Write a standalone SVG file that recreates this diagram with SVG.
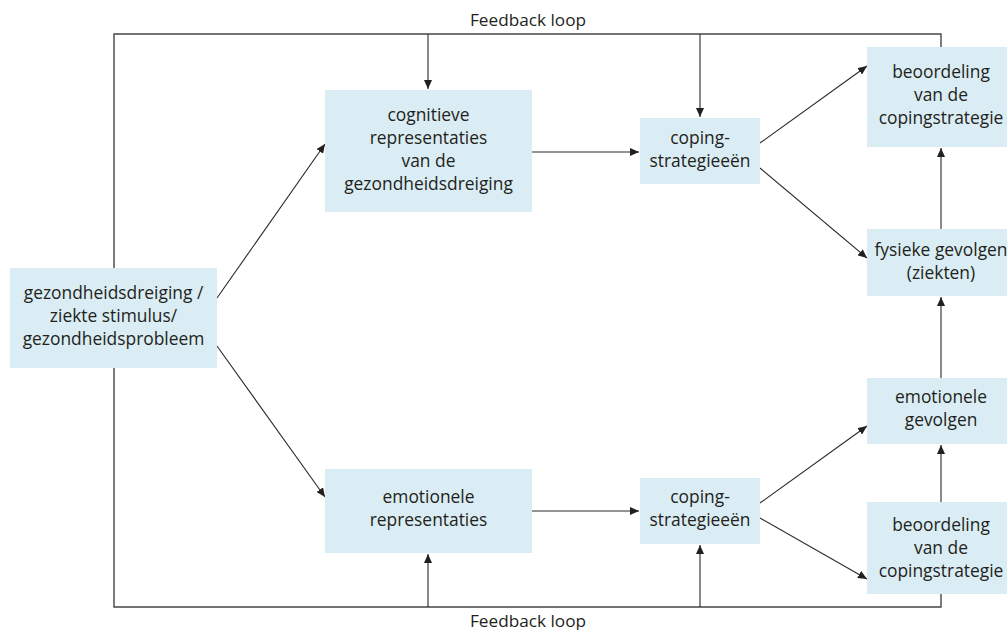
<svg xmlns="http://www.w3.org/2000/svg" width="1007" height="630" viewBox="0 0 1007 630">
<style>
.box{fill:#daedf4;}
.t{font-family:"Open Sans","Noto Sans",sans-serif;font-size:17.4px;fill:#231f20;text-anchor:middle;}
.fb{font-family:"Open Sans","Noto Sans",sans-serif;font-size:17.2px;fill:#231f20;text-anchor:middle;}
.c{stroke:#2e2829;stroke-width:1.1;fill:none;}
.loop{stroke:#4a4344;stroke-width:1.4;fill:none;}
</style>
<defs>
<marker id="ah" markerUnits="userSpaceOnUse" markerWidth="10" markerHeight="8" refX="9" refY="4" orient="auto">
<path d="M0,0 L9,4 L0,8 Z" fill="#231f20"/>
</marker>
</defs>
<rect width="1007" height="630" fill="#ffffff"/>
<g id="connectors">
<path class="loop" d="M114,268 V34 H941 V47"/>
<path class="loop" d="M114,368 V607 H941 V594"/>
<line class="c" x1="428" y1="34" x2="428" y2="89" marker-end="url(#ah)"/>
<line class="c" x1="700" y1="34" x2="700" y2="117" marker-end="url(#ah)"/>
<line class="c" x1="428" y1="607" x2="428" y2="554" marker-end="url(#ah)"/>
<line class="c" x1="700" y1="607" x2="700" y2="545" marker-end="url(#ah)"/>
<line class="c" x1="217" y1="298" x2="325" y2="144" marker-end="url(#ah)"/>
<line class="c" x1="217" y1="346" x2="325" y2="497" marker-end="url(#ah)"/>
<line class="c" x1="532" y1="152" x2="639" y2="152" marker-end="url(#ah)"/>
<line class="c" x1="532" y1="511" x2="639" y2="511" marker-end="url(#ah)"/>
<line class="c" x1="760" y1="143" x2="867" y2="66" marker-end="url(#ah)"/>
<line class="c" x1="760" y1="168" x2="867" y2="258" marker-end="url(#ah)"/>
<line class="c" x1="760" y1="503" x2="867" y2="426" marker-end="url(#ah)"/>
<line class="c" x1="760" y1="518" x2="867" y2="579" marker-end="url(#ah)"/>
<line class="c" x1="941" y1="229" x2="941" y2="148" marker-end="url(#ah)"/>
<line class="c" x1="941" y1="378" x2="941" y2="297" marker-end="url(#ah)"/>
<line class="c" x1="941" y1="502" x2="941" y2="445" marker-end="url(#ah)"/>
</g>
<g id="label-top"><text class="fb" x="528" y="26">Feedback loop</text></g>
<g id="label-bottom"><text class="fb" x="528" y="627">Feedback loop</text></g>
<g id="stimulus">
<rect class="box" x="10" y="268" width="207" height="100"/>
<text class="t" x="113.5" y="299">gezondheidsdreiging /</text>
<text class="t" x="113.5" y="322">ziekte stimulus/</text>
<text class="t" x="113.5" y="345">gezondheidsprobleem</text>
</g>
<g id="cognitive">
<rect class="box" x="325" y="90" width="207" height="122"/>
<text class="t" x="428.5" y="121">cognitieve</text>
<text class="t" x="428.5" y="144">representaties</text>
<text class="t" x="428.5" y="167">van de</text>
<text class="t" x="428.5" y="190">gezondheidsdreiging</text>
</g>
<g id="emotional">
<rect class="box" x="325" y="469" width="207" height="84"/>
<text class="t" x="428.5" y="503">emotionele</text>
<text class="t" x="428.5" y="526">representaties</text>
</g>
<g id="coping-top">
<rect class="box" x="640" y="118" width="120" height="66"/>
<text class="t" x="700" y="144">coping-</text>
<text class="t" x="700" y="167">strategieeën</text>
</g>
<g id="coping-bottom">
<rect class="box" x="640" y="478" width="120" height="66"/>
<text class="t" x="700" y="503">coping-</text>
<text class="t" x="700" y="526">strategieeën</text>
</g>
<g id="appraisal-top">
<rect class="box" x="867" y="47" width="148" height="100"/>
<text class="t" x="941" y="78">beoordeling</text>
<text class="t" x="941" y="101">van de</text>
<text class="t" x="941" y="124">copingstrategie</text>
</g>
<g id="physical">
<rect class="box" x="867" y="229" width="148" height="67"/>
<text class="t" x="941" y="256">fysieke gevolgen</text>
<text class="t" x="941" y="279">(ziekten)</text>
</g>
<g id="emotional-outcome">
<rect class="box" x="867" y="378" width="148" height="66"/>
<text class="t" x="941" y="403">emotionele</text>
<text class="t" x="941" y="426">gevolgen</text>
</g>
<g id="appraisal-bottom">
<rect class="box" x="867" y="502" width="148" height="92"/>
<text class="t" x="941" y="531">beoordeling</text>
<text class="t" x="941" y="554">van de</text>
<text class="t" x="941" y="577">copingstrategie</text>
</g>
</svg>
